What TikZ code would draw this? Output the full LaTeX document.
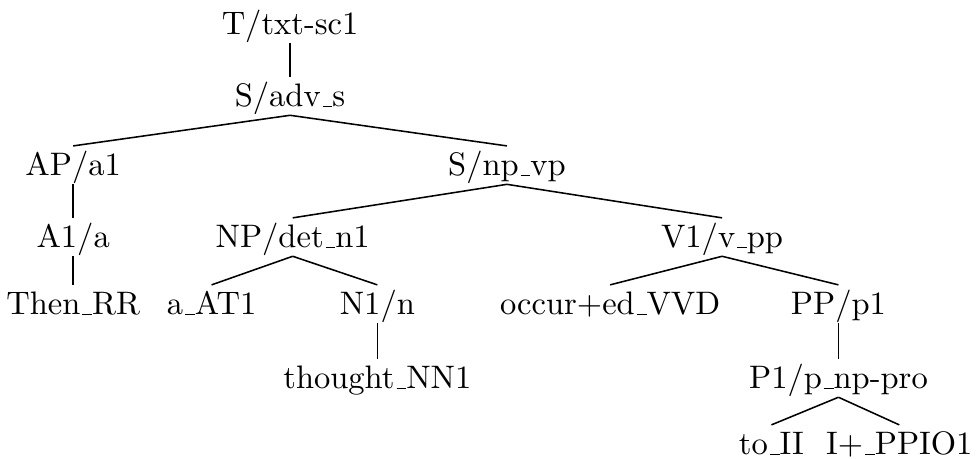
\documentclass[tikz,border=0pt]{standalone}
\usepackage{tikz}
\usetikzlibrary{positioning}

% low rule for the underscore
\newcommand{\usc}{\leavevmode\kern.06em\vbox{\hrule width.3em}}

\begin{document}
\begin{tikzpicture}[
    cat/.style={anchor=base, inner sep=0pt, text height=9.5pt, text depth=2.5pt,
        font=\fontsize{10.5}{12.5}\selectfont},
    branch/.style={line width=0.5pt},
]
\useasboundingbox (0,0) rectangle (11.07,-5.205);

\node[cat] (t) at (3.29,-0.397) {T/txt-sc1};
\node[cat] (sadv) at (3.29,-1.213) {S/adv\usc s};
\node[cat] (ap) at (0.83,-1.996) {AP/a1};
\node[cat] (snp) at (5.75,-1.996) {S/np\usc vp};
\node[cat] (a1) at (0.83,-2.812) {A1/a};
\node[cat] (np) at (3.32,-2.812) {NP/det\usc n1};
\node[cat] (v1) at (8.19,-2.812) {V1/v\usc pp};
\node[cat] (then) at (0.83,-3.572) {Then\usc RR};
\node[cat] (aat) at (2.40,-3.572) {a\usc AT1};
\node[cat] (n1) at (4.28,-3.572) {N1/n};
\node[cat] (occur) at (6.92,-3.572) {occur+ed\usc VVD};
\node[cat] (pp) at (9.51,-3.572) {PP/p1};
\node[cat] (thought) at (4.28,-4.411) {thought\usc NN1};
\node[cat] (p1) at (9.51,-4.411) {P1/p\usc np-pro};
\node[cat] (toii) at (8.75,-5.16) {to\usc II};
\node[cat] (ipp) at (10.20,-5.16) {I+\usc PPIO1};

% upper branches
\draw[branch] (t.south) -- (sadv.north);
\draw[branch] (sadv.south) -- (ap.north);
\draw[branch] (sadv.south) -- (snp.north);
\draw[branch] (ap.south) -- (a1.north);
\draw[branch] (a1.south) -- (then.north);
\draw[branch] (snp.south) -- (np.north);
\draw[branch] (snp.south) -- (v1.north);

% lower branches
\draw[branch] (np.south) -- (aat.north);
\draw[branch] (np.south) -- (n1.north);
\draw[branch] (n1.south) -- (thought.north);
\draw[branch] (v1.south) -- (occur.north);
\draw[branch] (v1.south) -- (pp.north);
\draw[branch] (pp.south) -- (p1.north);
\draw[branch] (p1.south) -- (toii.north);
\draw[branch] (p1.south) -- (ipp.north);

\end{tikzpicture}
\end{document}
